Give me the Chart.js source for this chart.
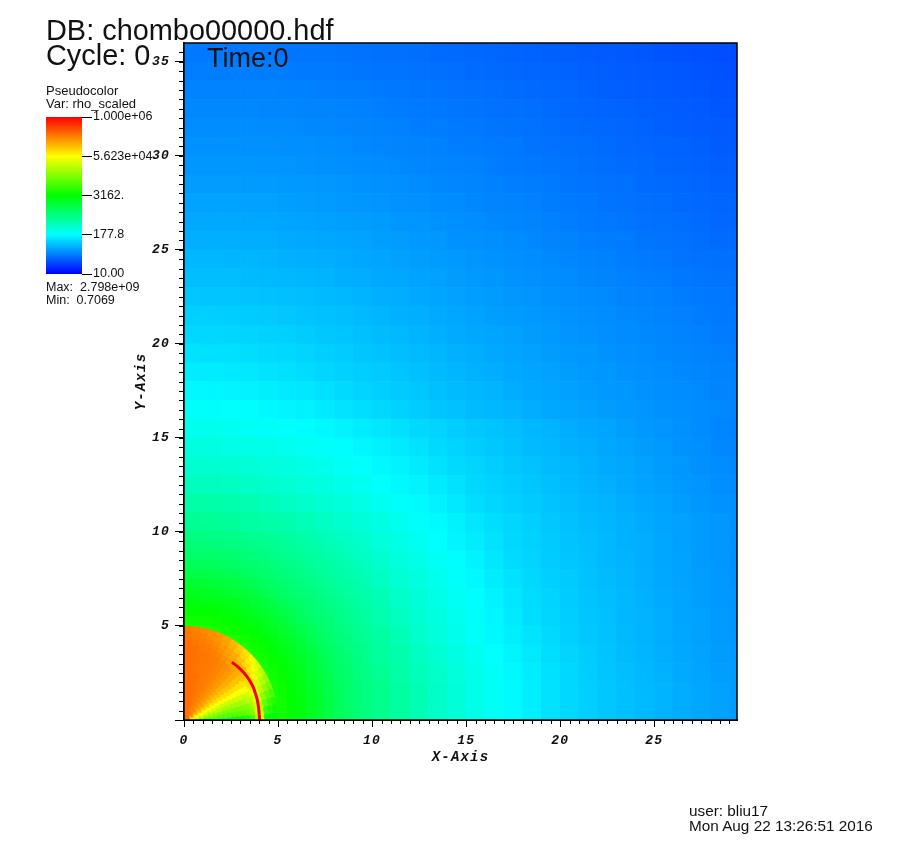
<!DOCTYPE html>
<html><head><meta charset="utf-8">
<script src="https://cdn.jsdelivr.net/npm/chart.js@4/dist/chart.umd.min.js"></script>
<style>
html,body{margin:0;padding:0;background:#fff;width:920px;height:848px;overflow:hidden}
#wrap{position:relative;width:920px;height:848px}
canvas{position:absolute}
.t{position:absolute;font-family:"Liberation Sans",sans-serif;color:#111;white-space:pre;line-height:normal;z-index:5}
</style></head><body>
<div id="wrap">
<div style="position:absolute;left:0;top:0;width:920px;height:848px"><canvas id="main" width="920" height="848"></canvas></div>
<div style="position:absolute;left:0;top:100px;width:184px;height:190px"><canvas id="legend" width="184" height="190"></canvas></div>
<div class="t" style="left:46px;top:14px;font-size:28.9px">DB: chombo00000.hdf</div>
<div class="t" style="left:46px;top:39px;font-size:28.9px">Cycle: 0</div>
<div class="t" style="left:207px;top:43px;font-size:27px">Time:0</div>
<div class="t" style="left:46px;top:83px;font-size:13px">Pseudocolor</div>
<div class="t" style="left:46px;top:96px;font-size:13px">Var: rho_scaled</div>
<div class="t" style="left:46px;top:280px;font-size:12.5px">Max:  2.798e+09</div>
<div class="t" style="left:46px;top:293px;font-size:12.5px">Min:  0.7069</div>
<div class="t" style="left:689px;top:802px;font-size:15.3px">user: bliu17</div>
<div class="t" style="left:689px;top:817px;font-size:15.3px">Mon Aug 22 13:26:51 2016</div>
</div>
<script>
// log10(rho)*100 on 1-unit cells; rows run top (y=35.5) to bottom (y=0.5), columns x=0.5..29.5
const coarseRows = [
[159,159,159,159,159,158,158,158,157,156,155,155,154,153,152,151,150,149,148,147,146,145,144,143,142,141,140,139,138,137],
[162,162,162,162,161,161,160,160,159,158,157,157,156,155,154,153,152,151,150,149,148,147,146,145,144,143,142,141,140,138],
[164,164,164,164,164,163,163,162,161,161,160,159,158,157,156,155,154,153,152,151,150,148,147,146,145,144,143,142,141,140],
[167,167,167,167,166,166,165,165,164,163,162,161,160,159,158,157,156,155,154,153,151,150,149,148,147,146,145,144,142,141],
[169,169,169,169,168,168,167,167,166,165,164,163,162,161,160,159,158,157,156,154,153,152,151,150,148,147,146,145,144,143],
[172,172,172,171,171,170,170,169,168,167,166,165,164,163,162,161,160,159,157,156,155,154,153,151,150,149,148,147,145,144],
[174,174,174,174,173,173,172,171,170,169,168,167,166,165,164,163,162,160,159,158,157,155,154,153,152,150,149,148,147,146],
[177,177,177,176,176,175,175,174,173,172,171,170,168,167,166,165,163,162,161,160,158,157,156,155,153,152,151,150,148,147],
[180,180,180,179,179,178,177,176,175,174,173,172,171,169,168,167,165,164,163,161,160,159,157,156,155,154,152,151,150,149],
[183,183,183,182,182,181,180,179,178,177,176,174,173,172,170,169,167,166,165,163,162,160,159,158,156,155,154,153,151,150],
[186,186,186,185,185,184,183,182,181,180,178,177,175,174,172,171,170,168,167,165,164,162,161,160,158,157,156,154,153,152],
[190,190,189,189,188,187,186,185,184,182,181,179,178,176,175,173,172,170,169,167,166,164,163,161,160,159,157,156,155,154],
[193,193,193,192,191,190,189,188,186,185,183,182,180,179,177,175,174,172,171,169,168,166,165,163,162,161,159,158,157,155],
[198,197,197,196,195,194,193,191,190,188,186,185,183,181,179,178,176,174,173,171,170,168,167,165,164,163,161,160,159,157],
[202,202,201,200,199,198,196,195,193,191,189,187,186,184,182,180,178,176,175,173,172,170,169,167,166,164,163,161,160,159],
[206,206,205,204,203,202,200,198,196,194,192,190,188,186,184,182,181,179,177,175,173,172,170,168,167,166,164,163,161,160],
[211,210,210,209,207,206,204,202,200,197,195,193,191,189,187,185,183,181,179,177,175,174,172,170,169,167,166,164,163,161],
[216,216,215,214,212,210,208,205,203,201,199,196,194,191,189,187,185,183,181,179,177,175,174,172,170,169,167,166,164,163],
[222,221,220,219,217,215,213,210,207,204,202,199,197,194,192,190,188,185,183,181,179,177,175,174,172,170,169,167,165,164],
[228,227,226,224,222,220,218,215,212,209,206,203,200,197,195,192,190,188,185,183,181,179,177,175,173,171,170,168,167,165],
[233,233,232,230,228,226,224,222,219,216,213,210,206,204,201,198,196,193,190,188,185,183,181,178,175,173,171,168,166,163],
[241,240,238,237,235,233,230,227,224,221,218,215,211,207,204,201,198,195,192,190,187,185,182,180,177,175,172,170,167,165],
[249,248,247,245,243,240,237,234,230,226,222,219,215,211,207,204,201,198,195,192,190,187,184,182,179,176,174,171,169,167],
[258,257,255,253,250,247,243,239,235,231,226,222,219,215,211,206,203,200,197,194,191,188,186,183,180,178,175,173,170,168],
[268,267,265,263,259,255,251,247,242,237,232,227,223,219,214,209,205,202,199,196,193,190,188,185,182,180,177,174,172,170],
[278,277,274,271,268,265,260,254,249,244,239,233,227,223,218,213,209,205,202,198,195,192,189,187,184,181,179,176,174,171],
[290,289,287,283,278,272,268,262,255,249,243,237,231,225,220,216,211,206,203,199,196,193,190,187,185,182,179,176,174,171],
[300,299,296,292,288,282,276,268,262,255,249,242,236,229,224,219,213,208,204,200,197,194,190,188,185,182,180,176,174,171],
[310,309,306,302,296,290,282,274,266,258,254,247,240,234,227,222,216,211,206,202,199,195,192,189,186,183,180,178,175,172],
[334,331,322,312,302,294,286,278,270,262,261,251,244,237,230,224,219,213,208,204,200,196,193,190,187,184,181,178,175,173],
[348,343,332,320,310,300,292,284,276,268,264,256,247,240,233,227,221,215,209,205,201,197,194,190,188,185,181,179,176,173],
[355,350,340,328,316,306,298,290,282,274,269,261,251,243,235,228,222,217,212,207,202,198,195,191,188,185,182,179,176,174],
[360,355,345,332,320,310,300,292,284,278,272,265,255,247,239,232,226,220,214,209,204,200,196,192,189,186,183,180,177,175],
[362,358,347,335,322,312,302,294,288,282,277,268,259,251,243,235,228,222,216,210,206,201,197,193,190,187,184,181,178,176],
[365,360,348,335,323,314,304,296,290,285,281,271,262,252,244,236,229,223,217,211,206,202,198,194,191,188,185,182,179,176],
[365,360,348,335,323,314,304,296,290,285,281,271,262,252,244,236,229,223,217,211,206,202,198,194,191,188,185,182,179,176]
];
// finer half-unit cells near the origin; rows top (y=9.75) to bottom (y=0.25), columns x=0.25..9.75
const fineRows = [
[287,287,286,285,284,283,281,279,278,275,273,271,268,265,262,259,256,253,251,248],
[293,293,292,291,290,288,287,284,282,279,277,274,271,268,265,262,259,256,253,251],
[300,299,299,298,296,295,293,290,287,285,282,279,276,272,269,266,264,259,256,253],
[307,307,306,304,302,300,298,295,292,290,286,283,280,276,272,269,266,264,259,256],
[316,315,314,313,311,308,305,301,299,295,292,288,284,281,277,272,269,266,263,259],
[326,326,325,323,320,316,313,309,305,300,296,292,288,285,281,277,272,269,265,262],
[336,335,334,331,329,325,322,318,312,307,302,297,293,289,285,280,276,272,268,265],
[344,343,342,340,337,335,330,325,321,315,308,303,299,293,288,284,280,276,270,267],
[352,351,350,348,345,342,338,333,327,323,315,310,303,297,292,288,283,278,274,270],
[359,358,357,356,353,349,344,340,336,329,323,315,309,302,296,292,286,282,277,272],
[364,364,363,361,359,356,352,347,341,336,329,323,315,307,300,295,290,284,279,275],
[364,364,364,364,364,362,358,354,348,342,336,328,321,312,305,299,292,287,282,277],
[364,364,364,364,364,364,364,358,354,347,340,334,325,318,309,301,295,290,284,279],
[364,364,364,364,364,364,364,364,358,352,345,338,330,322,313,305,298,293,287,281],
[364,364,364,364,364,364,364,364,361,356,349,342,335,325,316,308,300,295,288,283],
[364,364,364,364,364,364,364,364,364,359,353,345,337,329,320,311,302,296,290,284],
[364,364,364,364,364,364,364,364,364,361,356,348,340,331,323,313,304,298,291,285],
[364,364,364,364,364,364,364,364,364,362,357,350,342,334,325,314,306,299,292,286],
[364,364,364,364,364,364,364,364,364,364,358,351,343,335,326,315,307,299,293,287],
[364,364,364,364,364,364,364,364,364,364,358,352,344,336,326,316,307,300,293,287]
];
// inner disc, polar read-off: one row per angle
const discAngles = [2.5,7.5,12.5,17.5,22.5,27.5,32.5,37.5,42.5,47.5,52.5,57.5,62.5,67.5,72.5,77.5,82.5,87.5];
const discRadii = [0.25,0.5,0.75,1,1.25,1.5,1.75,2,2.25,2.5,2.75,3,3.25,3.5,3.75,4,4.25,4.5,4.75,5];
const discRows = [
[380,340,310,290,280,280,285,295,305,315,330,345,355,365,380,440,470,360,350,345],
[430,410,400,395,395,395,395,395,395,395,395,395,395,400,410,450,440,380,365,355],
[460,450,440,430,425,420,415,415,410,410,410,410,410,415,425,450,440,400,380,365],
[480,470,460,450,445,440,440,435,435,430,430,430,430,435,440,460,450,420,400,385],
[490,480,475,470,465,460,455,455,450,450,450,450,450,450,455,470,465,440,420,405],
[500,490,485,480,475,475,475,475,475,475,475,475,475,475,475,490,480,455,440,425],
[510,505,500,500,495,495,490,490,490,490,490,490,490,490,490,495,490,470,455,440],
[520,515,510,510,505,505,505,505,505,505,505,505,505,505,505,505,500,485,470,460],
[530,525,520,520,520,515,515,515,515,515,515,515,515,515,515,515,510,495,485,475],
[535,530,530,525,525,525,525,525,525,525,525,525,525,525,525,520,515,505,495,490],
[540,535,535,530,530,530,530,530,530,530,530,530,530,530,530,525,520,515,505,500],
[540,538,535,535,535,535,535,535,535,535,535,535,535,535,535,530,525,520,515,510],
[540,540,538,538,538,538,538,538,538,538,538,538,538,538,538,535,530,525,522,518],
[542,540,540,540,540,540,540,540,540,540,540,540,540,540,540,538,535,532,528,525],
[545,542,542,542,542,542,542,542,542,542,542,542,542,542,542,540,538,535,532,530],
[545,545,545,545,545,545,545,545,545,545,542,542,542,542,542,542,540,538,536,534],
[545,545,545,545,545,545,545,545,545,545,545,545,545,545,545,545,542,540,538,537],
[545,545,545,545,545,545,545,545,545,545,545,545,545,545,545,545,545,542,540,540]
];
const arcX = [4.02,4.0,3.96,3.9,3.8,3.68,3.52,3.32,3.08,2.82,2.6];
const arcY = [0,0.3,0.7,1.05,1.4,1.75,2.05,2.35,2.62,2.86,3.04];
const xTicksMax = 29.4, yTicksMax = 36;
const legendTicks = [10,177.8,3162,56230,1000000];
const legendLabels = ['10.00','177.8','3162.','5.623e+04','1.000e+06'];

const cmap = [[0,0,255],[0,255,255],[0,255,0],[255,255,0],[255,0,0]];
function colorOf(L){ // L = log10(rho)*100, legend runs 10..1e6
  let t=(L/100-1)/5; t=Math.max(0,Math.min(1,t))*4;
  const i=Math.min(3,Math.floor(t)),f=t-i,a=cmap[i],b=cmap[i+1];
  return `rgb(${a.map((v,k)=>Math.round(v+(b[k]-v)*f)).join(',')})`;
}
const coarse=[],fine=[],disc=[];
coarseRows.forEach((row,j)=>row.forEach((v,i)=>coarse.push({x:i+0.5,y:35.5-j,v})));
fineRows.forEach((row,j)=>row.forEach((v,i)=>fine.push({x:i*0.5+0.25,y:9.75-j*0.5,v})));
discRows.forEach((row,a)=>row.forEach((v,k)=>{
  const th=discAngles[a]*Math.PI/180,r=discRadii[k];
  disc.push({x:r*Math.cos(th),y:r*Math.sin(th),v,r});
}));
disc.sort((p,q)=>p.r-q.r);
const fill=c=>c.raw?colorOf(c.raw.v):'#000';
const cellRadius=u=>c=>{const s=c.chart.scales;if(!s.x||!s.y)return 5;
  const w=Math.abs(s.x.getPixelForValue(u)-s.x.getPixelForValue(0));
  return (w+0.7)*Math.SQRT1_2;};
const discRadius=c=>{const s=c.chart.scales;if(!s.x||!c.raw)return 4;
  const u=Math.abs(s.x.getPixelForValue(1)-s.x.getPixelForValue(0));
  return Math.hypot(0.125*u,c.raw.r*0.0436*u)+0.6;};
const onlyFives=s=>{s.ticks=s.ticks.filter(t=>t.value%5===0);};

const frame={id:'frame',
  beforeDraw(ch){ch.ctx.letterSpacing='1.2px';},
  beforeDatasetDraw(ch,a){ if(a.index!==1)return;
    const {x,y}=ch.scales,ctx=ch.ctx;ctx.save();ctx.beginPath();
    ctx.arc(x.getPixelForValue(0),y.getPixelForValue(0),x.getPixelForValue(5)-x.getPixelForValue(0),0,Math.PI*2);ctx.clip();},
  afterDatasetDraw(ch,a){ if(a.index===1)ch.ctx.restore(); },
  afterDraw(ch){
    const {x,y}=ch.scales,ctx=ch.ctx,A=ch.chartArea;ctx.save();
    ctx.strokeStyle='#000';ctx.lineWidth=1;ctx.beginPath();
    for(let v=0.5;v<xTicksMax;v+=0.5){ const p=Math.round(x.getPixelForValue(v))+0.5; ctx.moveTo(p,A.bottom);ctx.lineTo(p,A.bottom+4);}
    for(let v=0.5;v<yTicksMax;v+=0.5){ const p=Math.round(y.getPixelForValue(v))+0.5; ctx.moveTo(A.left,p);ctx.lineTo(A.left-5,p);}
    ctx.stroke();
    ctx.lineWidth=1.5;ctx.strokeRect(A.left,A.top,A.right-A.left,A.bottom-A.top);
    ctx.restore();}
};
const axisFont={family:'"Liberation Mono",monospace',size:13,weight:'bold',style:'italic'};
new Chart(document.getElementById('main'),{type:'scatter',
 data:{datasets:[
  {data:arcX.map((x,i)=>({x,y:arcY[i]})),showLine:true,borderColor:'#f00008',borderWidth:3,pointRadius:0,tension:0.3,borderCapStyle:'round'},
  {data:disc,pointStyle:'circle',pointRadius:discRadius,pointBackgroundColor:fill,pointBorderWidth:0},
  {data:fine,pointStyle:'rect',pointRadius:cellRadius(0.5),pointBackgroundColor:fill,pointBorderWidth:0},
  {data:coarse,pointStyle:'rect',pointRadius:cellRadius(1),pointBackgroundColor:fill,pointBorderWidth:0}
 ]},
 options:{responsive:false,animation:false,events:[],
  layout:{padding:{left:133,top:43,right:183,bottom:82}},
  plugins:{legend:{display:false},tooltip:{enabled:false}},
  scales:{
   x:{type:'linear',min:0,max:xTicksMax,afterFit(s){s.height=46;},afterBuildTicks:onlyFives,
      ticks:{stepSize:5,color:'#111',font:axisFont,maxRotation:0,padding:6},
      grid:{drawOnChartArea:false,tickLength:7,tickColor:'#000',tickWidth:1},
      border:{color:'#000',width:2},
      title:{display:true,text:'X-Axis',color:'#111',font:{...axisFont,size:14},padding:{top:0,bottom:0}}},
   y:{type:'linear',min:0,max:yTicksMax,afterFit(s){s.width=51;},afterBuildTicks:onlyFives,
      ticks:{stepSize:5,color:'#111',font:axisFont,padding:5,callback:v=>v===0?'':v},
      grid:{drawOnChartArea:false,tickLength:9,tickColor:'#000',tickWidth:1},
      border:{color:'#000',width:2},
      title:{display:true,text:'Y-Axis',color:'#111',font:{...axisFont,size:14},padding:{top:0,bottom:0}}}
  }},
 plugins:[frame]});

new Chart(document.getElementById('legend'),{type:'bar',
 data:{labels:['rho_scaled'],datasets:[{data:[[legendTicks[0],legendTicks[4]]],barPercentage:1,categoryPercentage:1,
  backgroundColor(c){const A=c.chart.chartArea;if(!A)return '#000';
    const g=c.chart.ctx.createLinearGradient(0,A.bottom,0,A.top);
    cmap.forEach((rgb,i)=>g.addColorStop(i/4,`rgb(${rgb.join(',')})`));return g;}}]},
 options:{responsive:false,animation:false,events:[],
  layout:{padding:{left:46,top:17,bottom:16,right:0}},
  plugins:{legend:{display:false},tooltip:{enabled:false}},
  scales:{
   x:{display:false},
   y:{type:'logarithmic',position:'right',min:10,max:1000000,afterFit(s){s.width=102;},
      afterBuildTicks(s){s.ticks=legendTicks.map(value=>({value}));},
      ticks:{autoSkip:false,padding:1,color:'#111',font:{family:'"Liberation Sans",sans-serif',size:12.5},callback:(v,i)=>legendLabels[i]},
      grid:{drawOnChartArea:false,tickLength:10,tickColor:'#000',tickWidth:1},
      border:{display:false}}
  }}});
</script>
</body></html>
